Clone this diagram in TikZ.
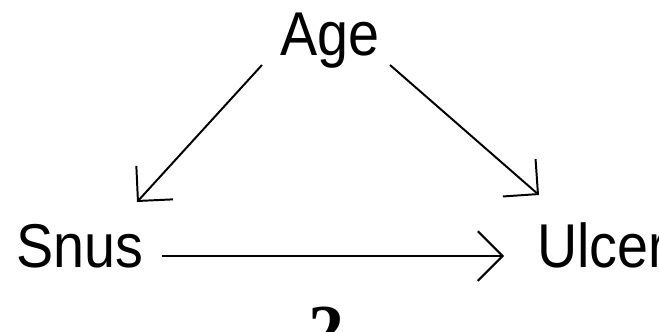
\documentclass[tikz,border=0pt]{standalone}
\usepackage{xcolor}
\usepackage{fontspec}
\usetikzlibrary{arrows.meta}
\newfontfamily\labelfont{Liberation Sans}[FakeStretch=0.9]
\newfontfamily\numfont{Liberation Serif}
\definecolor{DagInk}{HTML}{000000}

\begin{document}
\begin{tikzpicture}[x=0.025cm,y=0.025cm,
  varlabel/.style={inner sep=0pt,anchor=base west,text=DagInk,font=\labelfont\fontsize{44}{50}\selectfont},
  causal/.style={DagInk,line width=1.4pt,-{Straight Barb[length=0.62cm,width=1.24cm]}}]
\path[use as bounding box] (0,0) rectangle (659,331);
\node[varlabel] (age) at (280,276) {Age};
\node[varlabel] (snus) at (16,64) {Snus};
\node[varlabel] (ulcer) at (537,64) {Ulcer};
\node[anchor=base,inner sep=0pt,font=\numfont\bfseries\fontsize{51}{60}\selectfont] (num) at (326,-23) {2};
\draw[causal] ([shift={(-18,-10)}]age.base west) -- ([shift={(121,65)}]snus.base west);
\draw[causal] ([shift={(110,-10)}]age.base west) -- ([shift={(2,72)}]ulcer.base west);
\draw[causal] ([shift={(146,11)}]snus.base west) -- ([shift={(-33,11)}]ulcer.base west);
\end{tikzpicture}
\end{document}
